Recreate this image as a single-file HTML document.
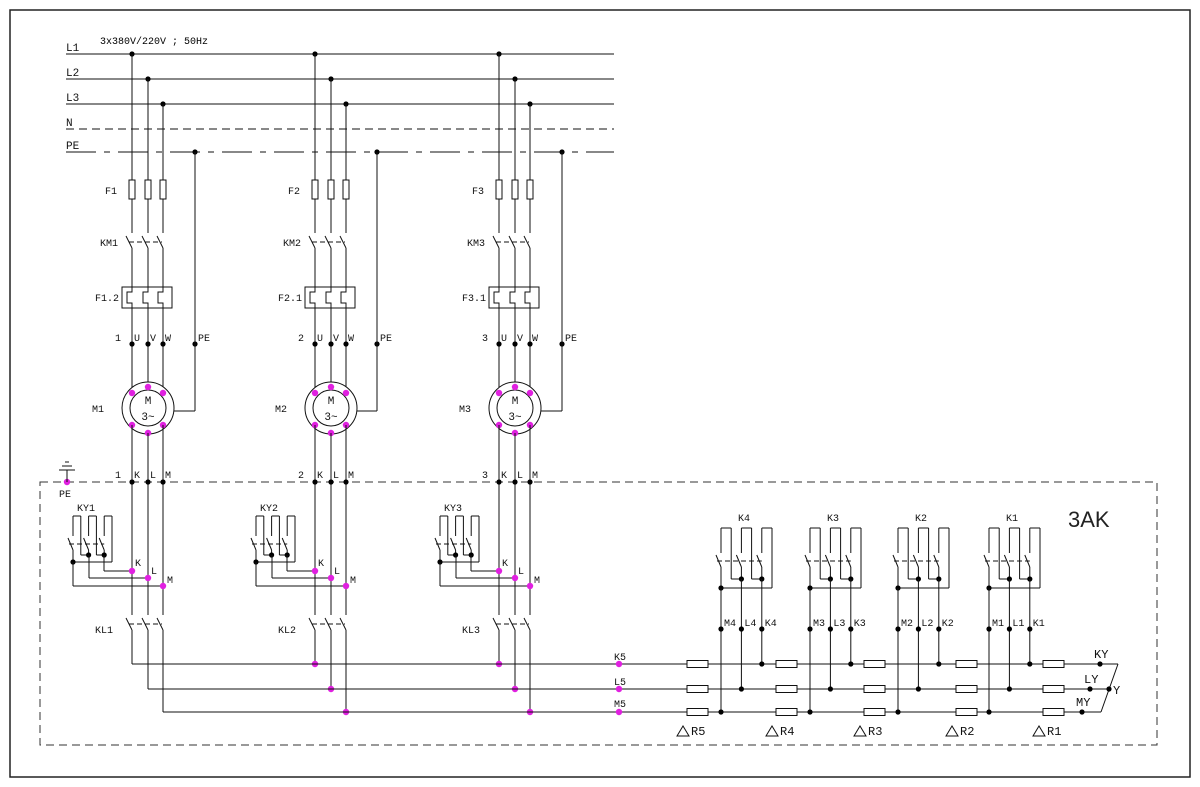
<!DOCTYPE html>
<html><head><meta charset="utf-8"><style>
html,body{margin:0;padding:0;background:#fff;}
svg{display:block;font-family:"Liberation Mono","DejaVu Sans Mono",monospace;}
</style></head><body>
<svg id="s" width="1200" height="787" viewBox="0 0 1200 787" xmlns="http://www.w3.org/2000/svg">
<rect x="10" y="10" width="1180" height="767" fill="none" stroke="#222" stroke-width="1.5"/>
<text x="100" y="44" font-size="10">3x380V/220V ; 50Hz</text>
<g font-size="11" fill="#111">
<text x="66" y="51">L1</text><text x="66" y="76">L2</text><text x="66" y="101">L3</text><text x="66" y="126">N</text><text x="66" y="149">PE</text>
</g>
<g stroke="#111" stroke-width="1" fill="none">
<line x1="66" y1="54" x2="614" y2="54"/>
<line x1="66" y1="79" x2="614" y2="79"/>
<line x1="66" y1="104" x2="614" y2="104"/>
<line x1="66" y1="129" x2="614" y2="129" stroke-dasharray="8,5"/>
<line x1="66" y1="152" x2="614" y2="152" stroke-dasharray="30,8,6,8"/>
<rect x="40" y="482" width="1117" height="263" stroke-dasharray="8,5" stroke="#333"/>
</g>
<text x="1068" y="527" font-size="22" font-family="Liberation Sans,sans-serif" fill="#222">3AK</text>
<g id="d"></g>
</svg>
<script>
const g=document.getElementById('d');let h='';
const L=(a,b,c,d,ex='')=>h+=`<line x1="${a}" y1="${b}" x2="${c}" y2="${d}" stroke="#111" stroke-width="1" ${ex}/>`;
const D=(x,y,c='#000',r=2.6)=>h+=`<circle cx="${x}" cy="${y}" r="${r}" fill="${c}"/>`;
const M=(x,y)=>D(x,y,'#e020e0',3.2);
const T=(x,y,t,s=10,a='start')=>h+=`<text x="${x}" y="${y}" font-size="${s}" text-anchor="${a}" fill="#111">${t}</text>`;
const R=(x,y,w,hh)=>h+=`<rect x="${x}" y="${y}" width="${w}" height="${hh}" fill="#fff" stroke="#111" stroke-width="1"/>`;
const sw=(xs,yB,ends)=>{xs.forEach((x,i)=>{L(x-6,yB+3,x,yB+15);L(x,yB+15,x,ends[i]);});
 L(xs[0]-3,yB+9,xs[2]-1,yB+9,'stroke-dasharray="5,3"');};
const cg=(x,p,top,bl,d1,d2)=>{
 const xs=[0,1,2,3,4,5].map(i=>x+i*p);
 [0,2,4].forEach(i=>{L(xs[i],top,xs[i+1],top);L(xs[i],top,xs[i],bl);L(xs[i]-5,bl+2,xs[i],bl+14);});
 L(xs[0]-4,bl+8,xs[4],bl+8,'stroke-dasharray="5,3"');
 L(xs[0],bl+14,xs[0],d2);L(xs[2],bl+14,xs[2],d1);L(xs[4],bl+14,xs[4],d1);
 L(xs[1],top,xs[1],d1);L(xs[1],d1,xs[2],d1);L(xs[3],top,xs[3],d1);L(xs[3],d1,xs[4],d1);
 L(xs[5],top,xs[5],d2);L(xs[0],d2,xs[5],d2);
 D(xs[2],d1);D(xs[4],d1);D(xs[0],d2);return xs;};
const groups=[[132,195,1,'F1','KM1','F1.2','M1','KY1','KL1'],[315,377,2,'F2','KM2','F2.1','M2','KY2','KL2'],[499,562,3,'F3','KM3','F3.1','M3','KY3','KL3']];
groups.forEach(([x,pe,n,f,km,ft,m,ky,kl],gi)=>{
 const c=[x,x+16,x+31];
 D(c[0],54);D(c[1],79);D(c[2],104);D(pe,152);
 c.forEach((cx,i)=>{L(cx,[54,79,104][i],cx,233);R(cx-3,180,6,19);});
 T(x-27,194,f);T(x-14,246,km,10,'end');
 sw(c,233,[393,387,393]);
 R(x-10,287,50,21);
 c.forEach(cx=>{h+=`<polyline points="${cx},287 ${cx},292 ${cx-5},292 ${cx-5},303 ${cx},303 ${cx},308" fill="none" stroke="#111"/>`;});
 T(x-13,301,ft,10,'end');
 T(x-17,341,n);T(x+2,341,'U');T(x+18,341,'V');T(x+33,341,'W');T(pe+3,341,'PE');
 c.forEach(cx=>D(cx,344));D(pe,344);
 L(pe,152,pe,411);L(pe,411,x+42,411);
 const cy=408,mx=x+16;
 h+=`<circle cx="${mx}" cy="${cy}" r="26" fill="#fff" stroke="#111"/><circle cx="${mx}" cy="${cy}" r="18" fill="none" stroke="#111"/>`;
 T(mx,404,'M',11,'middle');T(mx,420,'3~',11,'middle');T(x-40,412,m);
 M(c[0],393);M(c[1],387);M(c[2],393);M(c[0],425);M(c[1],433);M(c[2],425);
 L(c[0],425,c[0],615);L(c[1],433,c[1],615);L(c[2],425,c[2],615);
 T(x-17,478,n);T(x+2,478,'K');T(x+18,478,'L');T(x+33,478,'M');
 c.forEach(cx=>D(cx,482));
 const kx=x-59;
 cg(kx,7.8,516,536,555,562);
 T(kx+4,511,ky);
 L(kx+31,555,kx+31,571);L(kx+31,571,c[0],571);
 L(kx+16,555,kx+16,578);L(kx+16,578,c[1],578);
 L(kx,562,kx,586);L(kx,586,c[2],586);
 M(c[0],571);M(c[1],578);M(c[2],586);
 T(c[0]+3,566,'K');T(c[1]+3,574,'L');T(c[2]+4,583,'M');
 sw(c,615,[664,689,712]);
 T(x-37,633,kl);
 if(gi>0){M(c[0],664);M(c[1],689);M(c[2],712);}
});
M(67,482);L(67,470,67,482);L(59,470,75,470);L(62,466,72,466);L(65,462,69,462);T(59,497,'PE');
L(132,664,1118,664);L(148,689,1109,689);L(163,712,1101,712);
M(619,664);M(619,689);M(619,712);T(614,660,'K5');T(614,685,'L5');T(614,707,'M5');
[[687,'R5'],[776,'R4'],[864,'R3'],[956,'R2'],[1043,'R1']].forEach(([x,t])=>{
 [664,689,712].forEach(y=>R(x,y-3.5,21,7));
 const tx=x-10;h+=`<polygon points="${tx},736 ${tx+6},726 ${tx+12},736" fill="none" stroke="#111"/>`;
 T(tx+14,735,t,12);
});
[[721,'4'],[810,'3'],[898,'2'],[989,'1']].forEach(([x,n])=>{
 const xs=cg(x,10.2,528,553,579,588);
 T(x+17,521,'K'+n);
 const mL=xs[0],lL=xs[2],kL=xs[4];
 L(mL,588,mL,712);L(lL,579,lL,689);L(kL,579,kL,664);
 D(mL,629);D(lL,629);D(kL,629);
 T(mL+3,626,'M'+n);T(lL+3,626,'L'+n);T(kL+3,626,'K'+n);
 D(kL,664);D(lL,689);D(mL,712);
});
L(1118,664,1101,712);D(1100,664);D(1090,689);D(1109,689);D(1082,712);
T(1094,658,'KY',12);T(1084,683,'LY',12);T(1113,694,'Y',12);T(1076,706,'MY',12);
g.innerHTML=h;
</script>
</body></html>
